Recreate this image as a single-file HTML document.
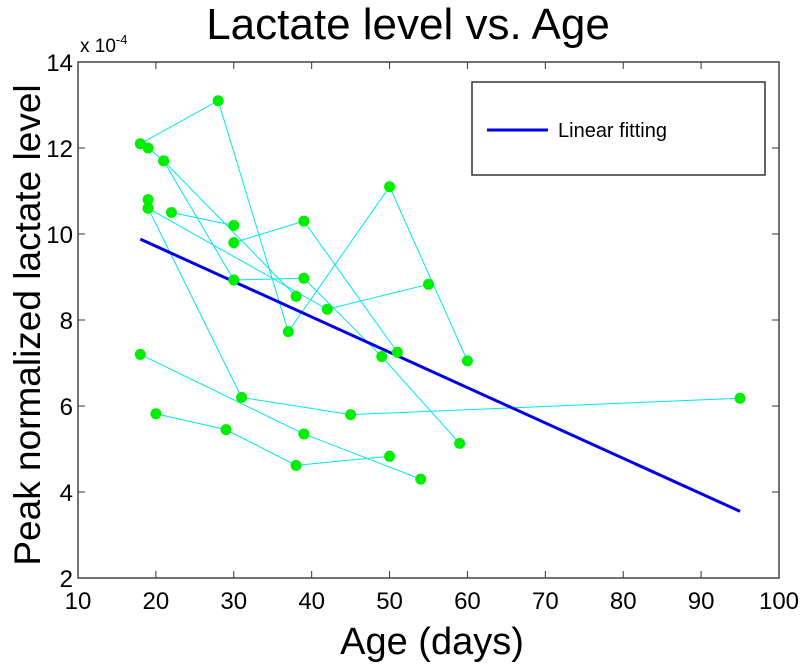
<!DOCTYPE html>
<html><head><meta charset="utf-8"><style>
body{margin:0;background:#fff;}
svg text{font-family:"Liberation Sans",Helvetica,sans-serif;fill:#000;}
</style></head><body>
<svg id="chart" width="800" height="664" xmlns="http://www.w3.org/2000/svg">
<rect width="800" height="664" fill="#fff"/>
<text x="408" y="39" font-size="44" text-anchor="middle">Lactate level vs. Age</text>
<text x="432" y="654" font-size="38" text-anchor="middle">Age (days)</text>
<text transform="translate(40,325) rotate(-90)" font-size="37" text-anchor="middle">Peak normalized lactate level</text>
<text x="80" y="52" font-size="19">x 10<tspan dy="-8" font-size="13">-4</tspan></text>
<g id="ticks"></g>
<g id="series"></g>
<g id="fit"></g>
<g id="marks"></g>
<rect x="78" y="62" width="701" height="516" fill="none" stroke="#444" stroke-width="1.5"/>
<g>
<rect x="472" y="82" width="293" height="93" fill="#fff" stroke="#333" stroke-width="1.5"/>
<line x1="487" y1="130" x2="548" y2="130" stroke="#0000ee" stroke-width="3"/>
<text x="558" y="137" font-size="20">Linear fitting</text>
</g>
</svg>
<script>
const xTicks=[10,20,30,40,50,60,70,80,90,100];
const yTicks=[2,4,6,8,10,12,14];
const series1=[[18,12.1],[28,13.1],[37,7.73],[50,11.1],[60,7.05]];
const series2=[[19,12.0],[21,11.7],[38,8.55]];
const series3=[[21,11.7],[30,8.93],[39,8.97],[49,7.15],[59,5.13]];
const series4=[[19,10.6],[42,8.25],[55,8.83]];
const series5=[[22,10.5],[30,10.2]];
const series6=[[30,9.8],[39,10.3],[51,7.25]];
const series7=[[19,10.6],[31,6.2],[45,5.8],[95,6.18]];
const series8=[[18,7.2],[39,5.35],[54,4.3]];
const series9=[[20,5.82],[29,5.45],[38,4.62],[50,4.83]];
const extraPoints=[[19,10.8]];
const fitLine=[[18,9.88],[95,3.55]];
const NS="http://www.w3.org/2000/svg";
const X0=78,X1=779,Y0=578,Y1=62;
function sx(v){return X0+(v-10)/90*(X1-X0);}
function sy(v){return Y0-(v-2)/12*(Y0-Y1);}
function mk(t,a,p){const e=document.createElementNS(NS,t);for(const k in a)e.setAttribute(k,a[k]);p.appendChild(e);return e;}
const tg=document.getElementById('ticks');
xTicks.forEach(v=>{const x=sx(v);
mk('line',{x1:x,y1:Y0,x2:x,y2:Y0-7,stroke:'#333'},tg);
mk('line',{x1:x,y1:Y1,x2:x,y2:Y1+7,stroke:'#333'},tg);
const t=mk('text',{x:x,y:Y0+31,'font-size':24,'text-anchor':'middle'},tg);t.textContent=v;

});
yTicks.forEach(v=>{const y=sy(v);
mk('line',{x1:X0,y1:y,x2:X0+7,y2:y,stroke:'#333'},tg);
mk('line',{x1:X1,y1:y,x2:X1-7,y2:y,stroke:'#333'},tg);
const t=mk('text',{x:X0-5,y:y+9,'font-size':24,'text-anchor':'end'},tg);t.textContent=v;

});
const allS=[series1,series2,series3,series4,series5,series6,series7,series8,series9];
const sg=document.getElementById('series'),mg=document.getElementById('marks');
allS.forEach((s,i)=>{
const pl=mk('polyline',{points:s.map(p=>sx(p[0])+','+sy(p[1])).join(' '),fill:'none',stroke:'#00e5ee','stroke-width':1},sg);


s.forEach(p=>{const c=mk('circle',{cx:sx(p[0]),cy:sy(p[1]),r:5.5,fill:'#00ee00'},mg);

});});
extraPoints.forEach(p=>{const c=mk('circle',{cx:sx(p[0]),cy:sy(p[1]),r:5.5,fill:'#00ee00'},mg);

});
const fl=mk('line',{x1:sx(fitLine[0][0]),y1:sy(fitLine[0][1]),x2:sx(fitLine[1][0]),y2:sy(fitLine[1][1]),stroke:'#0000ee','stroke-width':3},document.getElementById('fit'));


</script>
</body></html>
